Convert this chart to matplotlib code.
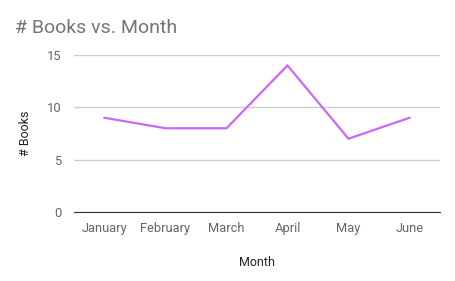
import matplotlib
matplotlib.use("Agg")
import matplotlib.pyplot as plt

plt.rcParams['font.family'] = ['Roboto', 'DejaVu Sans']

months = ["January", "February", "March", "April", "May", "June"]
books = [9, 8, 8, 14, 7, 9]
yticks = [0, 5, 10, 15]

fig = plt.figure(figsize=(4.55, 2.81), dpi=100)
ax = fig.add_axes([0.1626, 0.2456, 0.8044, 0.5587])

x = list(range(len(months)))
ax.plot(x, books, color="#cc66ff", linewidth=1.6, solid_joinstyle="miter")

ax.set_xlim(-0.5, len(months) - 0.5)
ax.set_ylim(0, 15)
ax.set_yticks(yticks)
ax.set_xticks(x)
ax.set_xticklabels(months)
ax.grid(axis="y", color="#cccccc", linewidth=1)
ax.set_axisbelow(True)
for s in ["top", "right", "left"]:
    ax.spines[s].set_visible(False)
ax.spines["bottom"].set_color("#333333")
ax.spines["bottom"].set_zorder(3)
ax.tick_params(length=0, labelsize=9.3, labelcolor="#666666")
ax.tick_params(axis="x", pad=7.5)
ax.tick_params(axis="y", pad=9)

ax.set_xlabel("Month", fontsize=9, color="#222222", labelpad=15)
ax.set_ylabel("# Books", fontsize=9, color="#222222", labelpad=11)

fig.text(15 / 455, 1 - 33 / 281, "# Books vs. Month", fontsize=14, color="#757575")

fig.savefig("out.png", dpi=100)
